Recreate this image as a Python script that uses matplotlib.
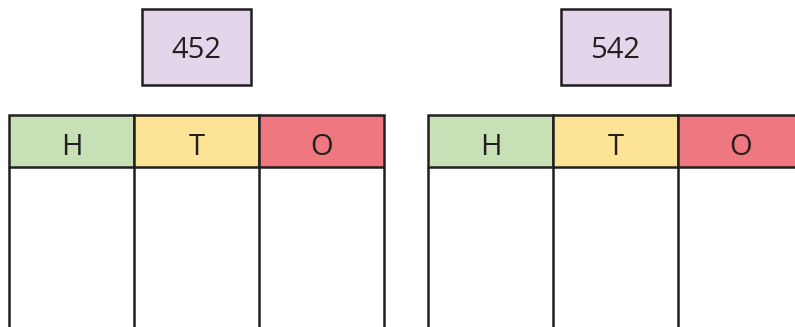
import matplotlib
matplotlib.use("Agg")
import matplotlib.pyplot as plt
from matplotlib.patches import Rectangle

numbers = ["452", "542"]
headers = ["H", "T", "O"]
header_colors = ["#c7e0b6", "#fde396", "#ef777f"]
box_color = "#e3d5ea"
line_color = "#231f20"

plt.rcParams['font.family'] = ['Open Sans', 'DejaVu Sans']

fig = plt.figure(figsize=(7.95, 3.27), dpi=100)
ax = fig.add_axes([0, 0, 1, 1])
ax.set_xlim(0, 795)
ax.set_ylim(327, 0)
ax.axis('off')

table_x = [9, 428]
col_w = 125
head_top, head_bot = 115, 167
box_w, box_h = 109, 76
box_top = 9
lw = 1.8

for k, num in enumerate(numbers):
    x0 = table_x[k]
    # number box
    bx = x0 + 1.5 * col_w - box_w / 2
    ax.add_patch(Rectangle((bx, box_top), box_w, box_h, facecolor=box_color,
                           edgecolor=line_color, lw=lw))
    ax.text(bx + box_w / 2, 58, num, ha='center', va='baseline', fontsize=21,
            color=line_color)
    # header cells
    for i, (h, c) in enumerate(zip(headers, header_colors)):
        cx = x0 + i * col_w
        ax.add_patch(Rectangle((cx, head_top), col_w, head_bot - head_top,
                               facecolor=c, edgecolor=line_color, lw=lw))
        ax.text(cx + col_w / 2, 155, h, ha='center', va='baseline', fontsize=21,
                color=line_color)
    # body vertical lines
    for i in range(len(headers) + 1):
        vx = x0 + i * col_w
        ax.plot([vx, vx], [head_bot, 330], color=line_color, lw=lw,
                solid_capstyle='butt')

fig.savefig("out.png", dpi=100)
